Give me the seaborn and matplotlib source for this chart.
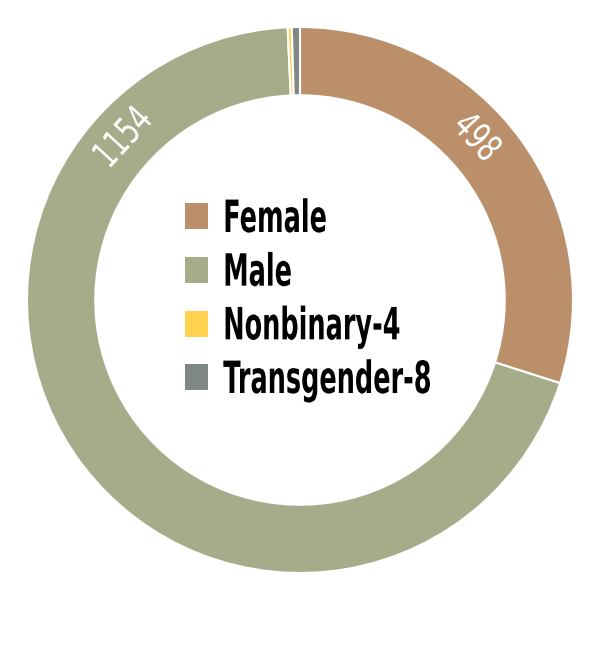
import numpy as np
import matplotlib.pyplot as plt
import seaborn as sns
from matplotlib.patches import Patch
from matplotlib.patheffects import AbstractPathEffect
from matplotlib.transforms import Affine2D

sns.set_theme(style="white")
plt.rcParams['font.family'] = ['DejaVu Sans Condensed', 'DejaVu Sans']

labels = ['Female', 'Male', 'Nonbinary-4', 'Transgender-8']
counts = [498, 1154, 4, 8]
colors = ['#BC8F6B', '#A5AC8A', '#FFD34F', '#7F8884']
# where the value labels sit on the ring (fraction of each wedge, clockwise)
label_frac = [0.44, 0.82, None, None]


class Squeeze(AbstractPathEffect):
    """narrow the glyphs horizontally (no condensed font like the original)"""
    def __init__(self, sx, center=False):
        super().__init__()
        self.sx = sx
        self.center = center

    def draw_path(self, renderer, gc, tpath, affine, rgbFace=None):
        cx = 0
        if self.center:
            ext = tpath.get_extents()
            cx = (ext.x0 + ext.x1) / 2
        t = Affine2D().translate(-cx, 0).scale(self.sx, 1).translate(cx, 0) + affine
        renderer.draw_path(gc, tpath, t, rgbFace)


fig = plt.figure(figsize=(6, 6.5), dpi=100)
ax = fig.add_axes([0, 50 / 650, 1, 600 / 650])

wedges, _ = ax.pie(counts, colors=colors, startangle=90, counterclock=False,
                   radius=1, wedgeprops=dict(width=0.25, edgecolor='white', linewidth=1.5))
lim = 300 / 273
ax.set_xlim(-lim, lim)
ax.set_ylim(-lim, lim)
ax.set_aspect('equal')
ax.axis('off')

for w, n, f in zip(wedges, counts, label_frac):
    if f is None:
        continue
    t1, t2 = w.theta1, w.theta2
    ang = t2 - f * (t2 - t1)
    r = 0.875
    x, y = r * np.cos(np.radians(ang)), r * np.sin(np.radians(ang))
    ax.text(x, y, str(n), ha='center', va='center', rotation=ang - 90,
            rotation_mode='anchor', color='white', fontsize=27,
            path_effects=[Squeeze(0.7, center=True)])

handles = [Patch(facecolor=c, edgecolor='none') for c in colors]
leg = fig.legend(handles, labels, loc='center left', bbox_to_anchor=(185 / 600, 1 - 300 / 650),
                 frameon=False, prop={'size': 32, 'weight': 'bold'},
                 handlelength=0.52, handleheight=0.52,
                 labelspacing=0.24, handletextpad=0.34, borderpad=0, borderaxespad=0,
                 labelcolor='black')
for t in leg.get_texts():
    t.set_path_effects([Squeeze(0.575)])

fig.savefig('out.png', dpi=100)
